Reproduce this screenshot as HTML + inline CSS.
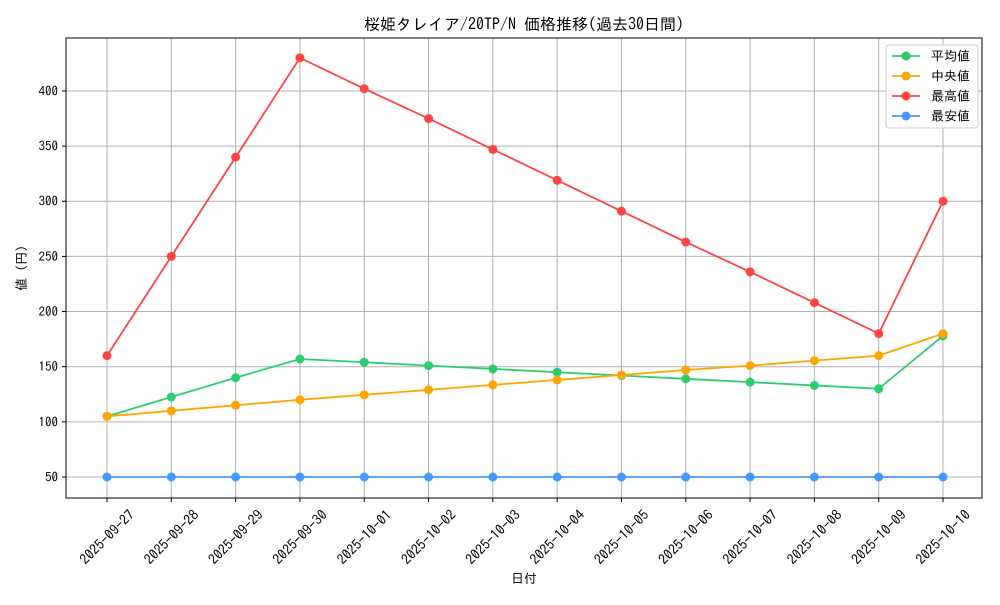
<!DOCTYPE html>
<html><head><meta charset="utf-8"><style>
body{margin:0;background:#fff;}
svg text{font-family:"IPAGothic","Liberation Sans","Noto Sans CJK JP",sans-serif;fill:#000;}
</style></head><body>
<svg id="chart" width="1000" height="600" xmlns="http://www.w3.org/2000/svg"></svg>
<script>
const categories=["2025-09-27","2025-09-28","2025-09-29","2025-09-30","2025-10-01","2025-10-02","2025-10-03","2025-10-04","2025-10-05","2025-10-06","2025-10-07","2025-10-08","2025-10-09","2025-10-10"];
const meanValues=[105,122.5,140,157,154,151,148,145,142,139,136,133,130,178];
const medianValues=[105,110,115,120,124.5,129,133.5,138,142.5,147,151,155.5,160,180];
const maxValues=[160,250,340,430,402,375,347,319,291,263,236,208,180,300];
const minValues=[50,50,50,50,50,50,50,50,50,50,50,50,50,50];
const yTicks=[50,100,150,200,250,300,350,400];
const seriesNames=["平均値","中央値","最高値","最安値"];
const seriesColors=["#2ecc71","#ffa500","#ff4444","#4499ff"];

const svg=document.getElementById('chart');
const NS="http://www.w3.org/2000/svg";
const L=66,R=982,T=38,B=498;
const yMin=30.96,yMax=448;
const x=i=>107+i*(943-107)/(categories.length-1);
const y=v=>B-(v-yMin)/(yMax-yMin)*(B-T);
function mk(tag,attrs,parent){const e=document.createElementNS(NS,tag);for(const k in attrs)e.setAttribute(k,attrs[k]);(parent||svg).appendChild(e);return e;}

categories.forEach((c,i)=>{const g=mk('line',{x1:x(i),x2:x(i),y1:T,y2:B,stroke:'#b0b0b0','stroke-width':1});

});
yTicks.forEach(v=>{const g=mk('line',{x1:L,x2:R,y1:y(v),y2:y(v),stroke:'#b0b0b0','stroke-width':1});

});
const frame=mk('rect',{x:L,y:T,width:R-L,height:B-T,fill:'none',stroke:'#000','stroke-width':1});



yTicks.forEach(v=>{mk('line',{x1:L-4,x2:L,y1:y(v),y2:y(v),stroke:'#000'});
const t=mk('text',{x:L-8,y:y(v)+4.5,'text-anchor':'end','font-size':13});t.textContent=v;

});
categories.forEach((c,i)=>{mk('line',{x1:x(i),x2:x(i),y1:B,y2:B+4,stroke:'#000'});
const ax=x(i),ay=B+39;
const t=mk('text',{x:ax,y:ay,'text-anchor':'middle','dominant-baseline':'central','font-size':14,transform:`rotate(-45 ${ax} ${ay})`});t.textContent=c;

});

[meanValues,medianValues,maxValues,minValues].forEach((vals,s)=>{
const g=mk('g',{});


mk('polyline',{points:vals.map((v,i)=>x(i)+','+y(v)).join(' '),fill:'none',stroke:seriesColors[s],'stroke-width':1.8},g);
vals.forEach((v,i)=>{const p=mk('circle',{cx:x(i),cy:y(v),r:4.5,fill:seriesColors[s]},g);

});
});

const title=mk('text',{x:524,y:30,'text-anchor':'middle','font-size':16});title.textContent="桜姫タレイア/20TP/N 価格推移(過去30日間)";


const xt=mk('text',{x:524,y:583,'text-anchor':'middle','font-size':13});xt.textContent="日付";


const yt=mk('text',{x:26,y:268,'text-anchor':'middle','font-size':13,transform:'rotate(-90 26 268)'});yt.textContent="値 (円)";



const lg=mk('g',{});


mk('rect',{x:886,y:45,width:92,height:83,rx:3,fill:'#fff','fill-opacity':0.85,stroke:'#ccc'},lg);
seriesNames.forEach((n,s)=>{const yy=56+s*20;
const e=mk('g',{},lg);


mk('line',{x1:892,x2:920,y1:yy,y2:yy,stroke:seriesColors[s],'stroke-width':1.8},e);
mk('circle',{cx:906,cy:yy,r:4.5,fill:seriesColors[s]},e);
const t=mk('text',{x:931,y:yy+4.5,'font-size':13},e);t.textContent=n;});
</script>
</body></html>
